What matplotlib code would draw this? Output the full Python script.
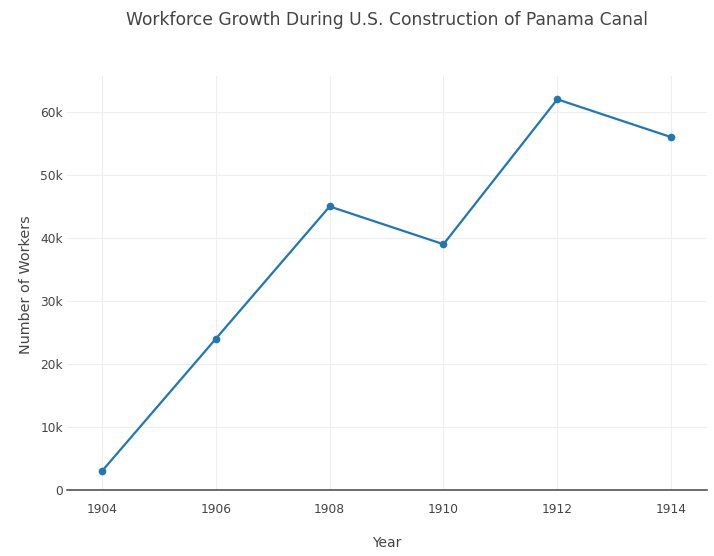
import matplotlib
matplotlib.use("Agg")
import matplotlib.pyplot as plt
from matplotlib.ticker import FuncFormatter

years = [1904, 1906, 1908, 1910, 1912, 1914]
workers = [3000, 24000, 45000, 39000, 62000, 56000]

title = "Workforce Growth During U.S. Construction of Panama Canal"
xlabel = "Year"
ylabel = "Number of Workers"

plt.rcParams['font.family'] = ['DejaVu Sans']

fig = plt.figure(figsize=(7.14, 5.56), dpi=100)
ax = fig.add_axes([0.0938, 0.1187, 0.8964, 0.7446])

ax.plot(years, workers, color='#1f77b4', linewidth=1.6, marker='o', markersize=4.5, zorder=3)

ax.set_xlim(1903.385, 1914.63)
ax.set_ylim(0, 65700)
ax.set_xticks(years)
ax.set_yticks(range(0, 60001, 10000))
ax.yaxis.set_major_formatter(FuncFormatter(lambda v, p: "0" if v == 0 else f"{int(v/1000)}k"))

ax.grid(True, color='#eeeeee', linewidth=0.8)
ax.set_axisbelow(True)
for s in ['top', 'right', 'left']:
    ax.spines[s].set_visible(False)
ax.spines['bottom'].set_color('#444444')
ax.spines['bottom'].set_linewidth(1.1)
ax.tick_params(axis='both', length=0, labelsize=8.8, labelcolor='#444444')
ax.tick_params(axis='x', pad=9)
ax.tick_params(axis='y', pad=3)

fig.text(0.542, 0.024, xlabel, ha='center', va='center', fontsize=10, color='#444444')
fig.text(0.036, 0.488, ylabel, ha='center', va='center', rotation=90, fontsize=10.4, color='#444444')
fig.text(0.542, 0.964, title, ha='center', va='center', fontsize=12.3, color='#444444')

fig.savefig("out.png", dpi=100)
